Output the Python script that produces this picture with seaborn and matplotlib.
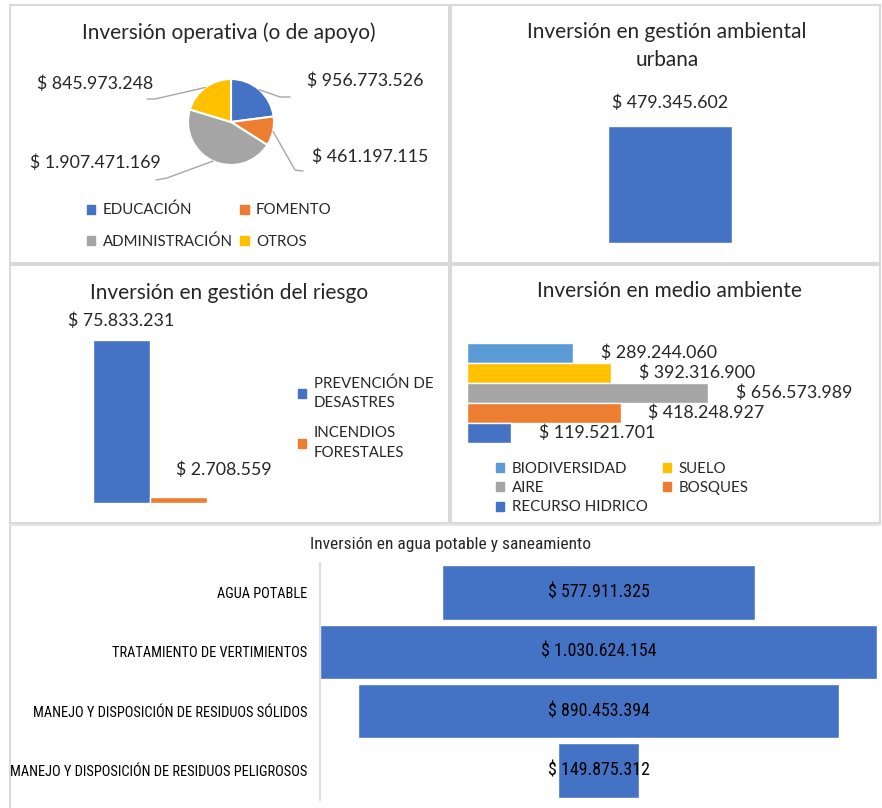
import matplotlib
matplotlib.use("Agg")
import matplotlib.pyplot as plt
from matplotlib import font_manager
from matplotlib.patches import Rectangle, Patch
import numpy as np
import pandas as pd
import seaborn as sns

# ---- data ----
op_labels = ["EDUCACIÓN", "FOMENTO", "ADMINISTRACIÓN", "OTROS"]
op_values = [956773526, 461197115, 1907471169, 845973248]

urb_labels = ["GESTIÓN AMBIENTAL URBANA"]
urb_values = [479345602]

riesgo_labels = ["PREVENCIÓN DE\nDESASTRES", "INCENDIOS\nFORESTALES"]
riesgo_values = [75833231, 2708559]

amb_labels = ["BIODIVERSIDAD", "SUELO", "AIRE", "BOSQUES", "RECURSO HIDRICO"]
amb_values = [289244060, 392316900, 656573989, 418248927, 119521701]

agua_labels = ["AGUA POTABLE", "TRATAMIENTO DE VERTIMIENTOS",
               "MANEJO Y DISPOSICIÓN DE RESIDUOS SÓLIDOS",
               "MANEJO Y DISPOSICIÓN DE RESIDUOS PELIGROSOS"]
agua_values = [577911325, 1030624154, 890453394, 149875312]

BLUE, ORANGE, GRAY, YELLOW, LBLUE = "#4472C4", "#ED7D31", "#A5A5A5", "#FFC000", "#5B9BD5"
TXT = "#262626"
VAL_FS, TITLE_FS, LEG_FS = 12.8, 15, 10.8

sns.set_theme(style="white")
plt.rcParams["font.family"] = ["Lato", "DejaVu Sans"]
plt.rcParams["text.color"] = TXT

# condensed font for the bottom panel, if any
names = {f.name for f in font_manager.fontManager.ttflist}
COND = dict(family="Roboto")
for nm in ["Roboto Condensed", "Liberation Sans Narrow", "Open Sans Condensed"]:
    if nm in names:
        COND = dict(family=nm)
        break
else:
    if any(("Condensed" in f.fname and "DejaVuSans" in f.fname) for f in font_manager.fontManager.ttflist):
        COND = dict(family="DejaVu Sans", stretch="condensed")

W, H = 882, 808
fig = plt.figure(figsize=(W / 100, H / 100), dpi=100)


def box(x0, y0, x1, y1):
    return [x0 / W, 1 - y1 / H, (x1 - x0) / W, (y1 - y0) / H]


def fpos(x, y):
    return x / W, 1 - y / H


def fmt(v):
    return "$ " + f"{v:,}".replace(",", ".")


# panel frames
for x0, y0, x1, y1 in [(10, 5, 449, 263), (451, 5, 880, 263),
                       (10, 265, 449, 523), (451, 265, 880, 523)]:
    fig.add_artist(Rectangle(fpos(x0, y1), (x1 - x0) / W, (y1 - y0) / H,
                             transform=fig.transFigure, fill=False,
                             ec="#d9d9d9", lw=1.5))
fig.add_artist(plt.Line2D([10 / W, 10 / W], [1 - 525 / H, 0], transform=fig.transFigure, color="#d9d9d9", lw=1.5))
fig.add_artist(plt.Line2D([10 / W, 880 / W], [1 - 525 / H, 1 - 525 / H], transform=fig.transFigure, color="#e6e6e6", lw=1.5))

# ---- 1. pie ----
cx, cy, r = 231, 122, 43
ax1 = fig.add_axes(box(10, 20, 448, 200))
wedges, _ = ax1.pie(op_values, colors=[BLUE, ORANGE, GRAY, YELLOW], startangle=90,
                    counterclock=False, wedgeprops=dict(edgecolor="white", linewidth=1.5))
ax1.set_aspect("auto")
ax1.set_xlim((10 - cx) / r, (448 - cx) / r)
ax1.set_ylim((cy - 200) / r, (cy - 20) / r)
ax1.axis("off")


def p2d(x, y):
    return (x - cx) / r, (cy - y) / r


# elbow, line end, label anchor, alignment
leaders = [((280, 97), (290, 97), (307, 81), "left"),
           ((295, 170), (303, 171), (312, 157), "left"),
           ((167, 178), (156, 180), (161, 163), "right"),
           ((155, 99), (147, 99), (153, 84), "right")]
for w, v, (el, en, lab, ha) in zip(wedges, op_values, leaders):
    a = np.deg2rad((w.theta1 + w.theta2) / 2)
    pts = [(np.cos(a), np.sin(a)), p2d(*el), p2d(*en)]
    ax1.plot([p[0] for p in pts], [p[1] for p in pts], color="#a6a6a6", lw=1, clip_on=False)
    ax1.text(*p2d(*lab), fmt(v), ha=ha, va="center", fontsize=VAL_FS, clip_on=False)
fig.text(*fpos(229, 33), "Inversión operativa (o de apoyo)", ha="center", va="center", fontsize=TITLE_FS)
h1 = [Patch(color=c) for c in [BLUE, ORANGE, GRAY, YELLOW]]
order = [0, 2, 1, 3]
fig.legend([h1[i] for i in order], [op_labels[i] for i in order], ncol=2,
           loc="upper left", bbox_to_anchor=fpos(87, 203), frameon=False, fontsize=LEG_FS,
           handlelength=0.55, handleheight=0.55, handletextpad=0.5, columnspacing=0.5,
           labelspacing=1.15, borderpad=0, borderaxespad=0)

# ---- 2. gestión ambiental urbana ----
ax2 = fig.add_axes(box(592, 91, 748, 243))
sns.barplot(x=urb_labels, y=urb_values, color=BLUE, saturation=1, width=0.8, ax=ax2)
ax2.set_ylim(0, urb_values[0] * 1.3)
ax2.bar_label(ax2.containers[0], labels=[fmt(v) for v in urb_values], padding=11, fontsize=VAL_FS)
ax2.axis("off")
fig.text(*fpos(667, 46), "Inversión en gestión ambiental\nurbana", ha="center", va="center",
         fontsize=TITLE_FS, linespacing=1.45)

# ---- 3. gestión del riesgo ----
ax3 = fig.add_axes(box(79, 299, 221, 503))
df3 = pd.DataFrame({"g": ["riesgo"] * 2, "tipo": riesgo_labels, "valor": riesgo_values})
sns.barplot(data=df3, x="g", y="valor", hue="tipo", palette=[BLUE, ORANGE], saturation=1,
            width=0.8, legend=False, ax=ax3)
ax3.set_ylim(0, riesgo_values[0] * 1.25)
ax3.axis("off")
for cont, v, off in zip(ax3.containers, riesgo_values, [(0, 19), (45, 27)]):
    p = cont[0]
    ax3.annotate(fmt(v), (p.get_x() + p.get_width() / 2, p.get_height()), xytext=off,
                 textcoords="offset pixels", ha="center", va="center", fontsize=VAL_FS)
fig.text(*fpos(229, 293), "Inversión en gestión del riesgo", ha="center", va="center", fontsize=TITLE_FS)
leg3 = fig.legend([Patch(color=BLUE), Patch(color=ORANGE)], riesgo_labels, loc="upper left",
                  bbox_to_anchor=fpos(298, 376), frameon=False, fontsize=LEG_FS, handlelength=0.55,
                  handleheight=0.55, handletextpad=0.5, labelspacing=1.05, borderpad=0, borderaxespad=0)
for t in leg3.get_texts():
    t.set_linespacing(1.53)

# ---- 4. medio ambiente ----
ax4 = fig.add_axes(box(467, 330.5, 880, 455.5))
df4 = pd.DataFrame({"g": ["ambiente"] * 5, "tipo": amb_labels, "valor": amb_values})
amb_colors = [LBLUE, YELLOW, GRAY, ORANGE, BLUE]
sns.barplot(data=df4, y="g", x="valor", hue="tipo", hue_order=amb_labels, palette=amb_colors,
            orient="h", saturation=1, width=0.8, legend=False, ax=ax4)
ax4.set_xlim(0, 1125e6)
for cont, v in zip(ax4.containers, amb_values):
    ax4.bar_label(cont, labels=[fmt(v)], padding=20, fontsize=VAL_FS)
ax4.axis("off")
fig.text(*fpos(669, 291), "Inversión en medio ambiente", ha="center", va="center", fontsize=TITLE_FS)
h4 = [Patch(color=c) for c in amb_colors]
order = [0, 2, 4, 1, 3]
fig.legend([h4[i] for i in order], [amb_labels[i] for i in order], ncol=2, loc="upper left",
           bbox_to_anchor=fpos(496, 462), frameon=False, fontsize=LEG_FS, handlelength=0.55,
           handleheight=0.55, handletextpad=0.5, columnspacing=1.03, labelspacing=0.35,
           borderpad=0, borderaxespad=0)

# ---- 5. agua potable y saneamiento (funnel) ----
ax5 = fig.add_axes(box(320, 563, 877, 800))
sns.barplot(x=agua_values, y=agua_labels, orient="h", color=BLUE, saturation=1, width=0.92, ax=ax5)
for p in ax5.patches:
    p.set_x(-p.get_width() / 2)
m = max(agua_values)
ax5.set_xlim(-m / 2, m / 2)
for i, v in enumerate(agua_values):
    ax5.text(0, i, fmt(v), ha="center", va="center", fontsize=12.9, color="black", **COND)
ax5.set_xticks([])
ax5.set_xlabel("")
ax5.set_ylabel("")
ax5.tick_params(axis="y", length=0, pad=9)
for t in ax5.get_yticklabels():
    t.set_fontproperties(font_manager.FontProperties(size=10.4, **COND))
    t.set_color("black")
for s in ["top", "right", "bottom"]:
    ax5.spines[s].set_visible(False)
ax5.spines["left"].set_color("#d9d9d9")
fig.text(*fpos(450, 545), "Inversión en agua potable y saneamiento", ha="center", va="center",
         fontsize=12.5, **COND)

fig.savefig("out.png", dpi=100)
